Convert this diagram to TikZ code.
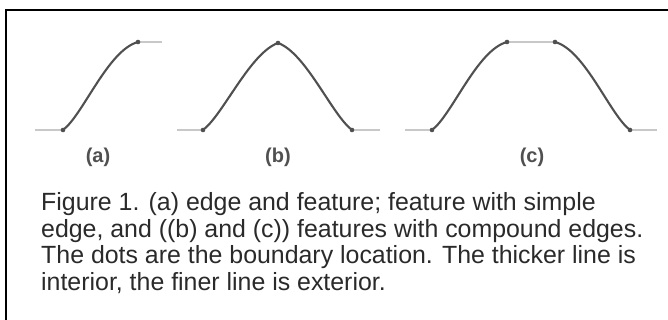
\documentclass[tikz,border=0pt]{standalone}
\usepackage{fontspec}
\setmainfont{Liberation Sans}
\definecolor{inner}{HTML}{505050}
\definecolor{outer}{HTML}{C8C8C8}
\definecolor{captext}{HTML}{2A2A2A}
\tikzset{
  interior/.style={draw=inner,line width=2.1pt},
  exterior/.style={draw=outer,line width=2.5pt},
  sublabel/.style={text=inner,font=\bfseries\fontsize{20}{20}\selectfont}
}
\begin{document}
\begin{tikzpicture}[x=1pt,y=1pt]
\useasboundingbox (0,0) rectangle (668,320);
\draw[line width=2pt] (668,309.5)--(6,309.5)--(6,0);

% boundary points
\coordinate (a1) at (63,190);  \coordinate (a2) at (138,278);
\coordinate (b1) at (203,190); \coordinate (b2) at (278,277); \coordinate (b3) at (352,190);
\coordinate (c1) at (432,190); \coordinate (c2) at (507,278);
\coordinate (c3) at (555,278); \coordinate (c4) at (630,190);
% free ends of the exterior
\coordinate (a0) at (35,190);  \coordinate (a3) at (162,278);
\coordinate (b0) at (177,190); \coordinate (b4) at (380,190);
\coordinate (c0) at (405,190); \coordinate (c5) at (657,190);

\draw[exterior] (a0)--(a1) (a2)--(a3);
\draw[exterior] (b0)--(b1) (b3)--(b4);
\draw[exterior] (c0)--(c1) (c2)--(c3) (c4)--(c5);

\draw[interior] (a1) .. controls +(20,15) and +(-30,-8) .. (a2);
\draw[interior] (b1) .. controls +(20,15) and +(-28,-10) .. (b2)
                     .. controls +(28,-10) and +(-20,15) .. (b3);
\draw[interior] (c1) .. controls +(20,15) and +(-30,-8) .. (c2);
\draw[interior] (c3) .. controls +(30,-8) and +(-20,15) .. (c4);

\foreach \p in {a1,a2,b1,b2,b3,c1,c2,c3,c4}
    \fill[inner] (\p) circle (2.3pt);

\node[sublabel] (la) at (98,162.5) {(a)};
\node[sublabel] (lb) at (278,162.5) {(b)};
\node[sublabel] (lc) at (532,162.5) {(c)};

\node[anchor=north west,inner sep=0pt,align=left,text=captext,
      font=\fontsize{24.9}{26.6}\selectfont] (cap) at (41,127.5)
  {Figure 1. (a) edge and feature; feature with simple\\
   edge, and ((b) and (c)) features with compound edges.\\
   The dots are the boundary location. The thicker line is\\
   interior, the finer line is exterior.};
\end{tikzpicture}
\end{document}
